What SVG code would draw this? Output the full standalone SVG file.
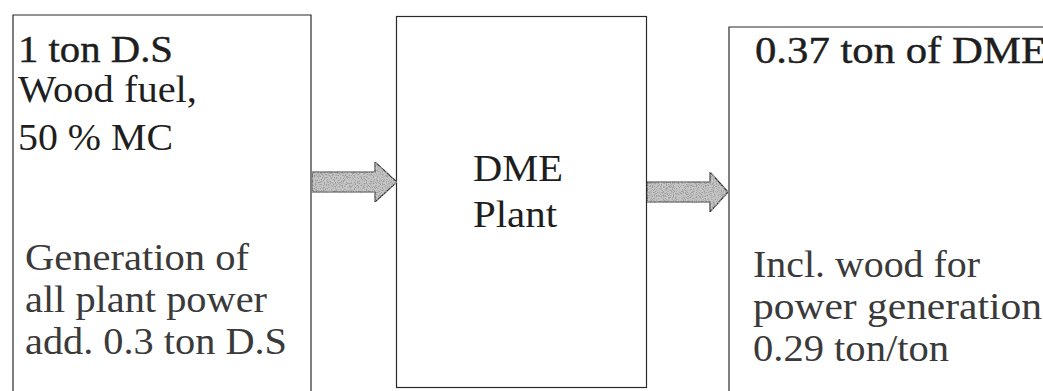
<svg xmlns="http://www.w3.org/2000/svg" width="1043" height="391" viewBox="0 0 1043 391">
  <style>
    .box { fill: #ffffff; stroke: #2a2a2a; stroke-width: 1.2; }
    .txt { font-family: "Liberation Serif", "Times New Roman", serif; font-size: 37px; fill: #1e1e1e; }
    .head { stroke: #1e1e1e; stroke-width: 0.4; }
    .lite { fill: #3a3a3a; }
    .arrow { fill: #c6c6c6; stroke: #333333; stroke-width: 1.2; stroke-linejoin: miter; filter: url(#grain); }
  </style>
  <defs>
    <!-- speckled grey fill for the block arrows -->
    <filter id="grain" x="0" y="0" width="100%" height="100%">
      <feTurbulence type="fractalNoise" baseFrequency="0.9" numOctaves="2" seed="4" result="noise"/>
      <feColorMatrix in="noise" type="matrix" values="0 0 0 0 0.35  0 0 0 0 0.35  0 0 0 0 0.35  5 0 0 0 -2.3" result="dark"/>
      <feComposite in="dark" in2="SourceGraphic" operator="in" result="specks"/>
      <feMerge>
        <feMergeNode in="SourceGraphic"/>
        <feMergeNode in="specks"/>
      </feMerge>
    </filter>
  </defs>
  <rect width="1043" height="391" fill="#ffffff"/>

  <!-- input: wood fuel -->
  <g id="input">
    <path class="box" d="M13,400 V15 H311 V400"/>
    <text class="txt head" x="18" y="62" textLength="155" lengthAdjust="spacingAndGlyphs">1 ton D.S</text>
    <text class="txt" x="18" y="102" textLength="179" lengthAdjust="spacingAndGlyphs">Wood fuel,</text>
    <text class="txt" x="18" y="150" textLength="155" lengthAdjust="spacingAndGlyphs">50 % MC</text>
    <text class="txt lite" x="25" y="270" textLength="224" lengthAdjust="spacingAndGlyphs">Generation of</text>
    <text class="txt lite" x="25" y="312" textLength="242" lengthAdjust="spacingAndGlyphs">all plant power</text>
    <text class="txt lite" x="25" y="354" textLength="262" lengthAdjust="spacingAndGlyphs">add. 0.3 ton D.S</text>
  </g>

  <!-- process: DME plant -->
  <g id="plant">
    <rect class="box" x="396.5" y="16.5" width="250" height="371"/>
    <text class="txt" x="473" y="181" textLength="90" lengthAdjust="spacingAndGlyphs">DME</text>
    <text class="txt" x="473" y="227" textLength="84" lengthAdjust="spacingAndGlyphs">Plant</text>
  </g>

  <!-- output: DME -->
  <g id="output">
    <path class="box" d="M729,400 V27 H1050"/>
    <text class="txt head" x="755" y="63" textLength="292" lengthAdjust="spacingAndGlyphs">0.37 ton of DME</text>
    <text class="txt lite" x="753" y="277" textLength="227" lengthAdjust="spacingAndGlyphs">Incl. wood for</text>
    <text class="txt lite" x="753" y="319" textLength="289" lengthAdjust="spacingAndGlyphs">power generation</text>
    <text class="txt lite" x="753" y="361" textLength="196" lengthAdjust="spacingAndGlyphs">0.29 ton/ton</text>
  </g>

  <!-- block arrows between stages -->
  <g id="connectors">
    <polygon class="arrow" points="312,172 375,172 375,162 397,182 375,202 375,192 312,192"/>
    <polygon class="arrow" points="647,182 710,182 710,172 728,192 710,212 710,202 647,202"/>
  </g>
</svg>
